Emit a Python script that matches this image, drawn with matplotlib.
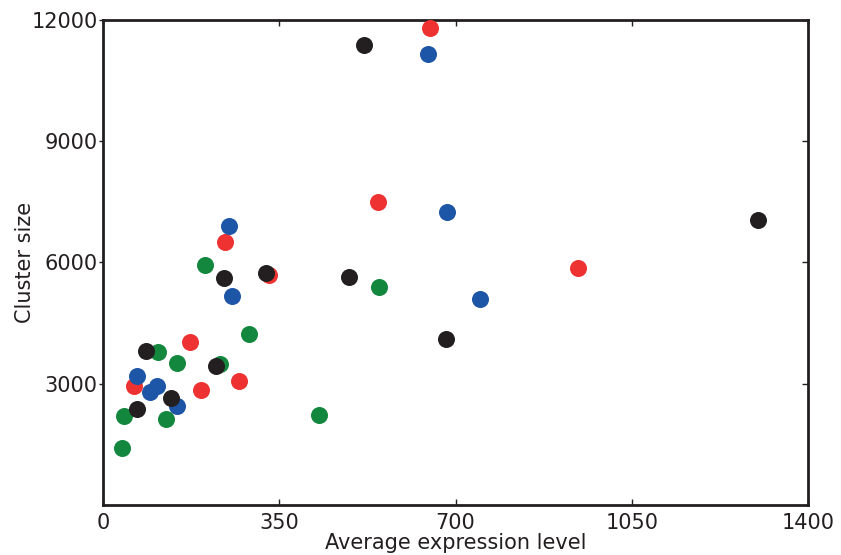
import matplotlib
matplotlib.use("Agg")
import matplotlib.pyplot as plt

# cluster size vs. average expression, one colour per group
red_x = [650, 546, 943, 242, 330, 173, 62, 195, 270]
red_y = [11800, 7500, 5860, 6500, 5690, 4030, 2945, 2845, 3070]

blue_x = [645, 683, 250, 256, 749, 67, 93, 107, 146]
blue_y = [11160, 7250, 6900, 5170, 5100, 3180, 2800, 2945, 2450]

green_x = [203, 548, 290, 147, 110, 233, 42, 125, 38, 429]
green_y = [5940, 5400, 4230, 3510, 3780, 3490, 2190, 2120, 1420, 2230]

black_x = [518, 1300, 681, 489, 324, 241, 86, 224, 135, 67]
black_y = [11380, 7050, 4110, 5650, 5740, 5620, 3820, 3440, 2640, 2380]

x_ticks = [0, 350, 700, 1050, 1400]
y_ticks = [3000, 6000, 9000, 12000]

RED = "#ee3131"
BLUE = "#1d56a6"
GREEN = "#13873e"
BLACK = "#231f20"

fig = plt.figure(figsize=(8.41, 5.55), dpi=100)
ax = fig.add_axes([0.1225, 0.0901, 0.8383, 0.8739])

ms = 150
ax.scatter(green_x, green_y, s=ms, c=GREEN, linewidths=0, zorder=3)
ax.scatter(red_x, red_y, s=ms, c=RED, linewidths=0, zorder=3)
ax.scatter(blue_x, blue_y, s=ms, c=BLUE, linewidths=0, zorder=3)
ax.scatter(black_x, black_y, s=ms, c=BLACK, linewidths=0, zorder=3)

ax.set_xlim(0, 1400)
ax.set_ylim(0, 12000)
ax.set_xticks(x_ticks)
ax.set_yticks(y_ticks)

for sp in ax.spines.values():
    sp.set_linewidth(2.0)
    sp.set_color(BLACK)

ax.tick_params(axis="x", direction="in", length=4, width=1, top=True,
               labelsize=15, colors=BLACK, pad=6)
ax.tick_params(axis="y", direction="out", length=3, width=1, right=False,
               labelsize=15, colors=BLACK, pad=1)

# right-hand ticks point inward
ax_r = ax.twinx()
ax_r.set_ylim(ax.get_ylim())
ax_r.set_yticks(y_ticks)
ax_r.tick_params(axis="y", direction="in", length=4, width=1,
                 labelright=False, colors=BLACK)
for sp in ax_r.spines.values():
    sp.set_visible(False)

ax.set_xlabel("Average expression level", fontsize=15, color=BLACK, labelpad=0)
ax.set_ylabel("Cluster size", fontsize=15, color=BLACK, labelpad=-3)

fig.savefig("out.png", dpi=100)
